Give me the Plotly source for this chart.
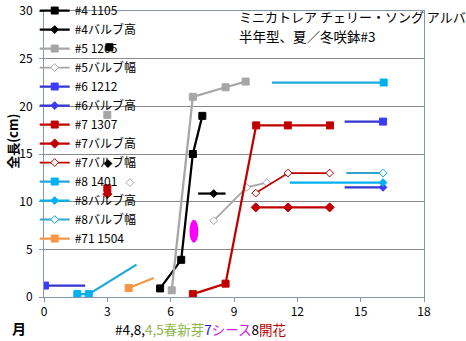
import plotly.graph_objects as go

# ---- data: month vs. length (cm); None breaks a line into separate pieces ----
m4_1105 = [3.1, None, 5.5, 6.5, 7.05, 7.5]
v4_1105 = [26.2, None, 0.9, 3.9, 15.0, 19.0]

m4_bulb_h = [3.03, None, 7.3, 8.04, 8.6]
v4_bulb_h = [14.0, None, 10.85, 10.85, 10.85]

m5_1205 = [3.0, None, 6.05, 7.05, 8.6, 9.55]
v5_1205 = [19.1, None, 0.7, 21.0, 22.0, 22.6]

m5_bulb_w = [4.07, None, 8.04, 9.6, 10.55]
v5_bulb_w = [12.0, None, 8.0, 11.5, 12.0]

m6_1212 = [0.05, 1.95, None, 14.24, 16.06]
v6_1212 = [1.2, 1.2, None, 18.4, 18.4]

m6_bulb_h = [16.06, 14.24]
v6_bulb_h = [11.5, 11.5]

m7_1307 = [3.0, None, 7.05, 8.6, 10.05, 11.55, 13.55]
v7_1307 = [11.4, None, 0.3, 1.4, 18.0, 18.0, 18.0]

m7_bulb_h = [3.0, None, 10.03, 11.56, 13.53]
v7_bulb_h = [10.8, None, 9.4, 9.4, 9.4]

m7_bulb_w = [10.03, 11.56, 13.53]
v7_bulb_w = [10.9, 13.0, 13.0]

m8_1401 = [1.58, 2.12, 4.38, None, 10.8, 16.09]
v8_1401 = [0.3, 0.3, 3.4, None, 22.5, 22.5]

m8_bulb_h = [16.06, 11.64]
v8_bulb_h = [12.0, 12.0]

m8_bulb_w = [16.06, 14.32]
v8_bulb_w = [13.0, 13.0]

m71_1504 = [4.01, 5.2]
v71_1504 = [0.94, 2.0]

# sheath appearance mark (month, length)
sheath_month = 7.1
sheath_len = 6.9

x_ticks = [0, 3, 6, 9, 12, 15, 18]
y_ticks = [0, 5, 10, 15, 20, 25, 30]

# ---- styling ----
FONT = "Noto Sans CJK JP"
BLACK = "#000000"
GRAY = "#A6A6A6"
BLUE_L = "#3535D2"
BLUE_M = "#3C3CFF"
RED = "#C00000"
CYAN_L = "#1FA8DA"
CYAN_M = "#00B0F0"
ORANGE = "#F79646"

# (name, x, y, line colour, line width, symbol, fill, outline, size, unmarked indices)
series = [
    ("#4 1105", m4_1105, v4_1105, BLACK, 2.25, "square", BLACK, BLACK, 7, []),
    ("#4バルブ高", m4_bulb_h, v4_bulb_h, BLACK, 2.25, "diamond", BLACK, BLACK, 6, [2, 4]),
    ("#5 1205", m5_1205, v5_1205, GRAY, 2.25, "square", GRAY, GRAY, 7, []),
    ("#5バルブ幅", m5_bulb_w, v5_bulb_w, GRAY, 1.75, "diamond", "white", GRAY, 6, []),
    ("#6 1212", m6_1212, v6_1212, BLUE_L, 2.25, "square", BLUE_M, BLUE_M, 7, [1, 3]),
    ("#6バルブ高", m6_bulb_h, v6_bulb_h, BLUE_L, 2.25, "diamond", BLUE_M, BLUE_M, 6, [1]),
    ("#7 1307", m7_1307, v7_1307, RED, 2.25, "square", RED, RED, 7, []),
    ("#7バルブ高", m7_bulb_h, v7_bulb_h, RED, 2.25, "diamond", RED, RED, 7, []),
    ("#7バルブ幅", m7_bulb_w, v7_bulb_w, RED, 1.75, "diamond", "white", RED, 6, []),
    ("#8 1401", m8_1401, v8_1401, CYAN_L, 2.25, "square", CYAN_M, CYAN_M, 7, [2, 4]),
    ("#8バルブ高", m8_bulb_h, v8_bulb_h, CYAN_M, 2.25, "diamond", CYAN_M, CYAN_M, 6, [1]),
    ("#8バルブ幅", m8_bulb_w, v8_bulb_w, "#31A5CC", 2.0, "diamond", "white", CYAN_M, 6, [1]),
    ("#71 1504", m71_1504, v71_1504, ORANGE, 2.25, "square", ORANGE, ORANGE, 7, [1]),
]

CLEAR = "rgba(0,0,0,0)"

fig = go.Figure()
for name, xs, ys, lc, lw, sym, fill, outline, size, unmarked in series:
    fills = [CLEAR if i in unmarked else fill for i in range(len(xs))]
    outlines = [CLEAR if i in unmarked else outline for i in range(len(xs))]
    fig.add_trace(go.Scatter(
        x=xs, y=ys, name=name, mode="lines+markers",
        line=dict(color=lc, width=lw),
        marker=dict(symbol=sym, size=size, color=fills,
                    line=dict(color=outlines, width=1)),
        connectgaps=False,
    ))

# sheath mark drawn as an ellipse around its data position
fig.add_shape(type="circle", xref="x", yref="y",
              x0=sheath_month - 0.21, x1=sheath_month + 0.21,
              y0=sheath_len - 1.2, y1=sheath_len + 1.2,
              fillcolor="#FF00FF", line=dict(width=0))

# plot area in pixels
L, R, T, B = 44.3, 424.3, 10.5, 297.3
W_FIG, H_FIG = 466, 341


def px_x(px):
    return (px - L) / (R - L)


def px_y(py):
    return (B - py) / (B - T)


ann = [
    dict(text="ミニカトレア チェリー・ソング アルバ", x=px_x(237), y=px_y(16),
         xanchor="left", yanchor="middle", font=dict(size=13)),
    dict(text="半年型、夏／冬咲鉢#3", x=px_x(237), y=px_y(36),
         xanchor="left", yanchor="middle", font=dict(size=13.5)),
    dict(text="<b>全長(cm)</b>", x=px_x(12), y=px_y(141), textangle=-90,
         xanchor="center", yanchor="middle", font=dict(size=13)),
    dict(text="<b>月</b>", x=px_x(19), y=px_y(328),
         xanchor="center", yanchor="middle", font=dict(size=14)),
    dict(text=("#4,8,<span style='color:#8DB84A'>4,5春新芽</span>"
               "<span style='color:#2020E0'>7</span>"
               "<span style='color:#D020D8'>シース</span>8"
               "<span style='color:#C00000'>開花</span>"),
         x=px_x(113), y=px_y(329), xanchor="left", yanchor="middle",
         font=dict(size=13.5)),
]
for a in ann:
    a.update(xref="paper", yref="paper", showarrow=False)
    a.setdefault("font", {})
    a["font"].setdefault("color", "black")
    a["font"]["family"] = FONT

AXIS_LINE = "#8595AA"
fig.update_layout(
    width=W_FIG, height=H_FIG,
    margin=dict(l=L, r=W_FIG - R, t=T, b=H_FIG - B, pad=0, autoexpand=False),
    paper_bgcolor="white", plot_bgcolor="white",
    font=dict(family=FONT, size=12, color="black"),
    showlegend=True,
    legend=dict(x=px_x(35), y=px_y(-4.5), xanchor="left", yanchor="top",
                maxheight=330,
                bgcolor=CLEAR, borderwidth=0, font=dict(size=12, family=FONT),
                tracegroupgap=0, itemclick=False),
    xaxis=dict(range=[0, 18], tickvals=x_ticks, ticks="outside", ticklen=4,
               tickcolor=AXIS_LINE, showgrid=False, zeroline=False,
               showline=True, linecolor=AXIS_LINE, linewidth=1, mirror=True,
               tickfont=dict(size=12, color="black")),
    yaxis=dict(range=[0, 30], tickvals=y_ticks, ticks="outside", ticklen=4,
               tickcolor=AXIS_LINE, showgrid=True, gridcolor="#888888",
               gridwidth=1, zeroline=False, showline=True, linecolor=AXIS_LINE,
               linewidth=1, mirror=True, ticklabelstandoff=4,
               tickfont=dict(size=12, color="black")),
    annotations=ann,
)

fig.write_html("out.html")
